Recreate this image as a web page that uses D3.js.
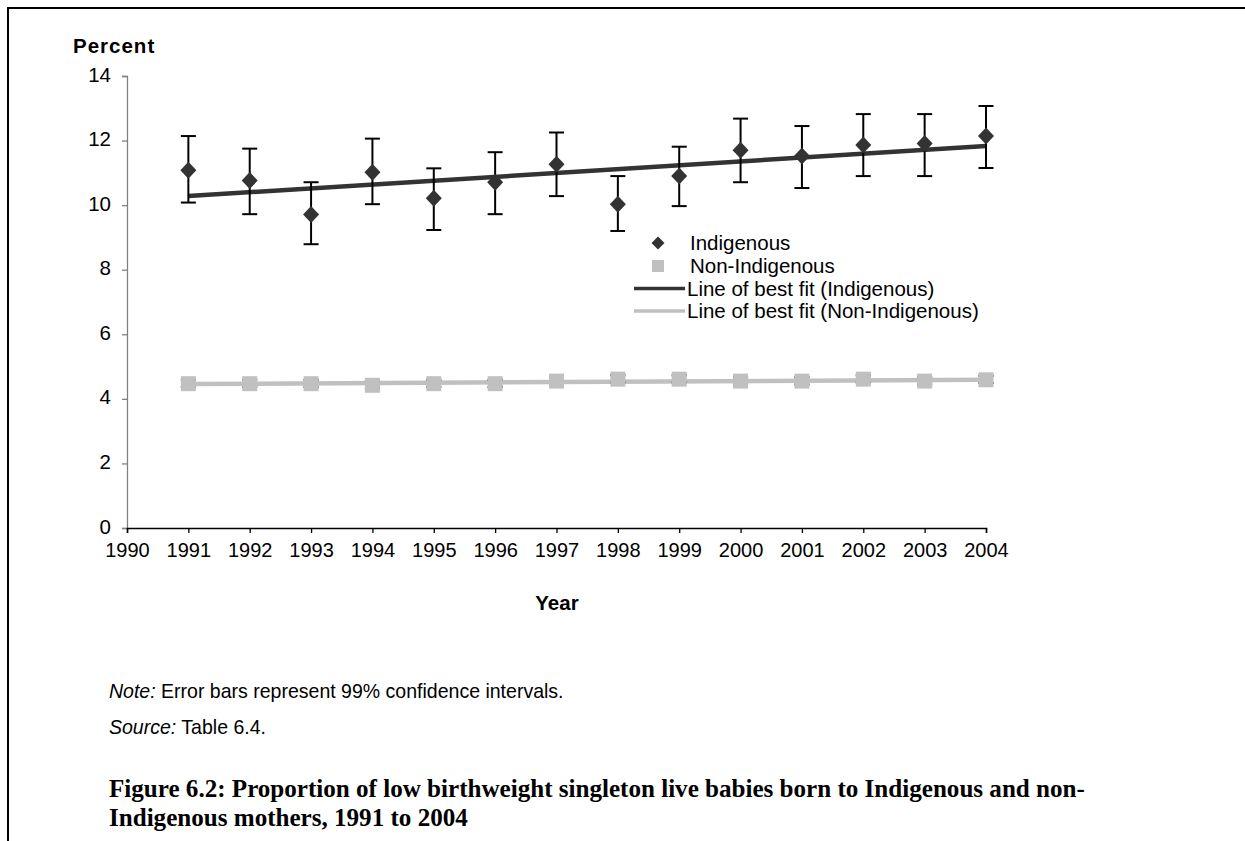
<!DOCTYPE html>
<html><head><meta charset="utf-8">
<script src="https://cdn.jsdelivr.net/npm/d3@7"></script>
<style>
html,body{margin:0;padding:0;background:#fff;overflow:hidden;width:1245px;height:841px;}
svg{display:block;}
</style></head>
<body>
<svg id="chart" width="1245" height="841"></svg>
<script>
// ---- data ----
const years = [1991,1992,1993,1994,1995,1996,1997,1998,1999,2000,2001,2002,2003,2004];
const indigenous = [11.08,10.76,9.71,11.02,10.21,10.71,11.27,10.03,10.90,11.70,11.52,11.86,11.91,12.14];
const indigLower = [10.08,9.72,8.79,10.03,9.23,9.72,10.28,9.20,9.97,10.71,10.53,10.90,10.90,11.15];
const indigUpper = [12.14,11.75,10.71,12.06,11.14,11.64,12.25,10.90,11.81,12.68,12.45,12.82,12.82,13.07];
const nonIndigenous = [4.47,4.47,4.47,4.42,4.47,4.47,4.55,4.61,4.61,4.55,4.55,4.61,4.55,4.59];
const nonIndigLower = [4.37,4.37,4.37,4.32,4.37,4.37,4.45,4.51,4.51,4.45,4.45,4.51,4.45,4.49];
const nonIndigUpper = [4.59,4.59,4.59,4.54,4.59,4.59,4.67,4.73,4.73,4.67,4.67,4.73,4.67,4.71];
const fitYears = [1991, 2004];
const indigFit = [10.28, 11.83];
const nonIndigFit = [4.46, 4.59];
const xTicks = [1990,1991,1992,1993,1994,1995,1996,1997,1998,1999,2000,2001,2002,2003,2004];
const yTicks = [0,2,4,6,8,10,12,14];
const legendLabels = ["Indigenous","Non-Indigenous","Line of best fit (Indigenous)","Line of best fit (Non-Indigenous)"];

const svg = d3.select("#chart");
const SANS = "'Liberation Sans', Arial, sans-serif";
const SERIF = "'Liberation Serif', 'Times New Roman', serif";

// frame
svg.append("line").attr("x1",8).attr("x2",1245).attr("y1",8).attr("y2",8).attr("stroke","#000").attr("stroke-width",2);
svg.append("line").attr("x1",8).attr("x2",8).attr("y1",7).attr("y2",841).attr("stroke","#000").attr("stroke-width",2);

const x = d3.scaleLinear().domain([1990,2004]).range([127,986]);
const y = d3.scaleLinear().domain([0,14]).range([528,76]);

// y axis
const ya = svg.append("g").attr("transform","translate(127,0)")
  .call(d3.axisLeft(y).tickValues(yTicks).tickSize(5).tickPadding(11).tickFormat(d3.format("d")));
ya.select(".domain").attr("stroke","#808080").attr("stroke-width",1.3);
ya.selectAll(".tick line").attr("stroke","#808080").attr("stroke-width",1.3);
ya.selectAll("text").attr("font-family",SANS).attr("font-size",20.5).attr("fill","#000").attr("dy","0.25em");

// x axis
const xa = svg.append("g").attr("transform","translate(0,528)")
  .call(d3.axisBottom(x).tickValues(xTicks).tickSize(5).tickPadding(10).tickFormat(d3.format("d")));
xa.select(".domain").attr("stroke","#000").attr("stroke-width",1.5);
xa.selectAll(".tick line").attr("stroke","#000").attr("stroke-width",1.3);
xa.selectAll("text").attr("font-family",SANS).attr("font-size",20).attr("fill","#000");

// axis titles
svg.append("text").attr("x",73).attr("y",53).attr("font-family",SANS).attr("font-weight","bold")
  .attr("font-size",20.5).attr("letter-spacing","1px").text("Percent");
svg.append("text").attr("x",557).attr("y",610).attr("text-anchor","middle").attr("font-family",SANS)
  .attr("font-weight","bold").attr("font-size",20.5).text("Year");

// best fit lines
const line = d3.line().x(d=>x(d[0])).y(d=>y(d[1]));
svg.append("path").datum(fitYears.map((yr,i)=>[yr,nonIndigFit[i]])).attr("d",line)
  .attr("stroke","#c0c0c0").attr("stroke-width",4.5).attr("fill","none");
svg.append("path").datum(fitYears.map((yr,i)=>[yr,indigFit[i]])).attr("d",line)
  .attr("stroke","#333333").attr("stroke-width",4.5).attr("fill","none");

// error bars
function errorBars(lo, hi, cls){
  const g = svg.append("g").attr("class",cls).attr("stroke","#000").attr("stroke-width",2);
  years.forEach((yr,i)=>{
    const cx = x(yr);
    g.append("line").attr("x1",cx).attr("x2",cx).attr("y1",y(lo[i])).attr("y2",y(hi[i]));
    g.append("line").attr("x1",cx-7.5).attr("x2",cx+7.5).attr("y1",y(lo[i])).attr("y2",y(lo[i]));
    g.append("line").attr("x1",cx-7.5).attr("x2",cx+7.5).attr("y1",y(hi[i])).attr("y2",y(hi[i]));
  });
}
errorBars(nonIndigLower, nonIndigUpper, "eb-non");
errorBars(indigLower, indigUpper, "eb-ind");

// markers
svg.append("g").selectAll("rect").data(years).join("rect")
  .attr("x",(d,i)=>x(d)-7.5).attr("y",(d,i)=>y(nonIndigenous[i])-7.5)
  .attr("width",15).attr("height",15).attr("fill","#c0c0c0");
const diamond = (cx,cy,w,h)=>`M${cx},${cy-h}L${cx+w},${cy}L${cx},${cy+h}L${cx-w},${cy}Z`;
svg.append("g").selectAll("path").data(years).join("path")
  .attr("d",(d,i)=>diamond(x(d),y(indigenous[i]),8,8.5)).attr("fill","#333333");

// legend
const lg = svg.append("g");
lg.append("rect").attr("x",625).attr("y",227).attr("width",385).attr("height",95).attr("fill","#fff");
const rowY = [243,266,288.5,311];
lg.append("path").attr("d",diamond(658,rowY[0],6.5,6.5)).attr("fill","#333333");
lg.append("rect").attr("x",652).attr("y",rowY[1]-6).attr("width",12).attr("height",12).attr("fill","#c0c0c0");
lg.append("line").attr("x1",634).attr("x2",685).attr("y1",rowY[2]).attr("y2",rowY[2]).attr("stroke","#333333").attr("stroke-width",3.5);
lg.append("line").attr("x1",634).attr("x2",685).attr("y1",rowY[3]).attr("y2",rowY[3]).attr("stroke","#c0c0c0").attr("stroke-width",3.5);
legendLabels.forEach((t,i)=>{
  lg.append("text").attr("x",i<2?690:687).attr("y",rowY[i]).attr("dy","0.35em")
    .attr("font-family",SANS).attr("font-size",20.5).attr("fill","#000").text(t);
});

// notes
const note = svg.append("text").attr("x",109).attr("y",698).attr("font-family",SANS).attr("font-size",15);
note.append("tspan").attr("font-style","italic").text("Note:");
note.append("tspan").text(" Error bars represent 99% confidence intervals.");
const src = svg.append("text").attr("x",109).attr("y",734).attr("font-family",SANS).attr("font-size",15);
src.append("tspan").attr("font-style","italic").text("Source:");
src.append("tspan").text(" Table 6.4.");
const nfs = 15 * 455 / note.node().getComputedTextLength();
note.attr("font-size", nfs); src.attr("font-size", nfs);

// caption
const cap1 = svg.append("text").attr("x",109).attr("y",797).attr("font-family",SERIF).attr("font-weight","bold")
  .attr("font-size",22).text("Figure 6.2: Proportion of low birthweight singleton live babies born to Indigenous and non-");
const cap2 = svg.append("text").attr("x",109).attr("y",826).attr("font-family",SERIF).attr("font-weight","bold")
  .attr("font-size",22).text("Indigenous mothers, 1991 to 2004");
const w1 = cap1.node().getComputedTextLength();
const fs = 22 * 976 / w1;
cap1.attr("font-size",fs); cap2.attr("font-size",fs);
</script>
</body></html>
